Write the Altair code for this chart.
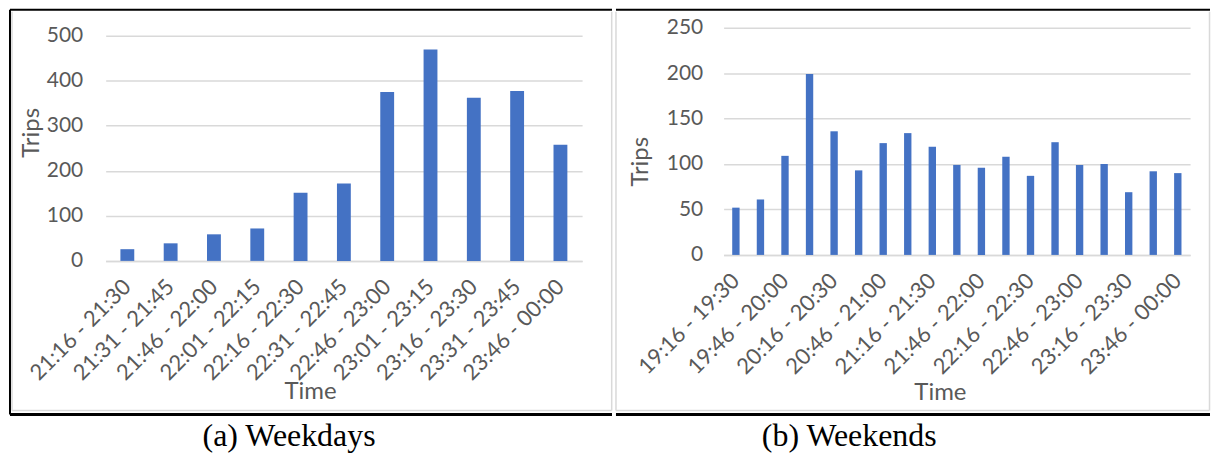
import altair as alt
import pandas as pd

weekday_times = ["21:16 - 21:30", "21:31 - 21:45", "21:46 - 22:00", "22:01 - 22:15",
                 "22:16 - 22:30", "22:31 - 22:45", "22:46 - 23:00", "23:01 - 23:15",
                 "23:16 - 23:30", "23:31 - 23:45", "23:46 - 00:00"]
weekday_trips = [26, 39, 59, 72, 151, 172, 375, 469, 362, 377, 258]
weekday_ticks = [0, 100, 200, 300, 400, 500]

weekend_times = ["19:16 - 19:30", "19:31 - 19:45", "19:46 - 20:00", "20:01 - 20:15",
                 "20:16 - 20:30", "20:31 - 20:45", "20:46 - 21:00", "21:01 - 21:15",
                 "21:16 - 21:30", "21:31 - 21:45", "21:46 - 22:00", "22:01 - 22:15",
                 "22:16 - 22:30", "22:31 - 22:45", "22:46 - 23:00", "23:01 - 23:15",
                 "23:16 - 23:30", "23:31 - 23:45", "23:46 - 00:00"]
weekend_trips = [52, 61, 109, 199, 136, 93, 123, 134, 119, 99, 96, 108, 87, 124, 99, 100, 69, 92, 90]
weekend_ticks = [0, 50, 100, 150, 200, 250]

captions = ["(a) Weekdays", "(b) Weekends"]

BAR = "#4472C4"
GRID = "#d9d9d9"
TXT = "#595959"
FONT = "Lato"

one = pd.DataFrame({"k": [0]})


def hline(x1, x2, y, color, w):
    return alt.Chart(one).mark_rule(color=color, strokeWidth=w).encode(
        x=alt.value(x1), x2=alt.value(x2), y=alt.value(y))


def vline(x, y1, y2, color, w):
    return alt.Chart(one).mark_rule(color=color, strokeWidth=w).encode(
        x=alt.value(x), y=alt.value(y1), y2=alt.value(y2))


def panel(times, trips, yticks, label_values, width, height, ytop, pad, ylabpad,
          ytx, yty, xtx, xty, caption, capx, capy, frame):
    df = pd.DataFrame({"time": times, "trips": trips})
    bars = alt.Chart(df).mark_bar(color=BAR).encode(
        x=alt.X("time:N", sort=times,
                scale=alt.Scale(paddingInner=pad, paddingOuter=pad / 2),
                axis=alt.Axis(title="Time", values=label_values, labelAngle=-45,
                              labelAlign="right", labelBaseline="middle",
                              labelPadding=22, labelFont=FONT, labelFontSize=22,
                              labelColor=TXT, labelOverlap=False, ticks=False,
                              domainColor=GRID, domainWidth=1.5,
                              titleFont=FONT, titleFontSize=24, titleColor=TXT,
                              titleFontWeight="normal", titleX=xtx, titleY=xty,
                              titleAlign="center", titleBaseline="middle")),
        y=alt.Y("trips:Q",
                scale=alt.Scale(domain=[yticks[0], yticks[-1]], nice=False,
                                range=[height, ytop]),
                axis=alt.Axis(title="Trips", values=yticks, grid=True, gridColor=GRID,
                              gridWidth=1.5, domain=False, ticks=False,
                              labelPadding=ylabpad, labelFont=FONT, labelFontSize=21,
                              labelColor=TXT, titleFont=FONT, titleFontSize=24,
                              titleColor=TXT, titleFontWeight="normal", titleAngle=270,
                              titleX=ytx, titleY=yty, titleAlign="center",
                              titleBaseline="middle")),
    )
    cap = alt.Chart(one).mark_text(font="Liberation Serif", fontSize=32, color="black",
                                   align="center", baseline="middle").encode(
        x=alt.value(capx), y=alt.value(capy), text=alt.value(caption))
    layers = [bars] + frame + [cap]
    return alt.layer(*layers).properties(width=width, height=height)


left_frame = [
    vline(-94, -16, 384, GRID, 1.5),
    hline(-94, 507.7, 384, GRID, 1.5),
    vline(507.7, -16, 384, GRID, 1.5),
    hline(-96, 508, -18, "black", 2),
    vline(-96, -18, 388, "black", 2),
    hline(-96, 508, 388, "black", 3),
]
right_frame = [
    vline(-108, -16, 384, GRID, 1.5),
    hline(-108, 487.5, 384, GRID, 1.5),
    vline(487.5, -16, 384, GRID, 1.5),
    hline(-108, 488, -18, "black", 2),
    hline(-108, 488, 388, "black", 3),
]

left = panel(weekday_times, weekday_trips, weekday_ticks, weekday_times, 478, 234, 8, 0.68, 23,
             -74, 105, 205, 131, captions[0], 184, 410, left_frame)
right = panel(weekend_times, weekend_trips, weekend_ticks, weekend_times[::2], 468, 228, 0, 0.7, 21,
              -83, 134, 217, 138, captions[1], 126, 410, right_frame)

chart = alt.hconcat(left, right, spacing=0).properties(padding=0).configure_view(stroke=None)

chart.save("out.html", embed_options={"renderer": "svg", "actions": False})
